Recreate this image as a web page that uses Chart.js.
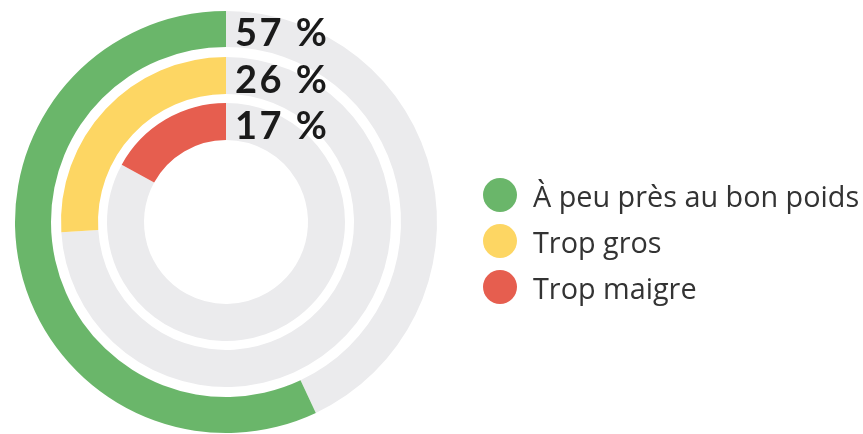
<!DOCTYPE html>
<html>
<head>
<meta charset="utf-8">
<script src="https://cdn.jsdelivr.net/npm/chart.js@4/dist/chart.umd.min.js"></script>
<style>
  html, body { margin: 0; padding: 0; background: #fff; }
  #wrap { position: relative; width: 863px; height: 434px; }
  #legend { position: absolute; left: 483px; top: 172px; font-family: 'Open Sans', sans-serif; font-size: 28.8px; color: #333; }
  .item { display: flex; align-items: center; height: 46px; white-space: nowrap; }
  .dot { width: 34px; height: 34px; border-radius: 50%; margin-right: 16px; flex: none; }
</style>
</head>
<body>
<div id="wrap">
  <canvas id="chart" width="863" height="434"></canvas>
  <div id="legend"></div>
</div>
<script>
// --- Data ---
const categories = ['À peu près au bon poids', 'Trop gros', 'Trop maigre'];
const percentages = [57, 26, 17];
const colors = ['#6ab66a', '#fdd663', '#e65e4f'];
const trackColor = '#ebebed';

// ring thickness and gaps (px)
const ringWeights = [36, 37, 37];
const gapWeights = [10, 9];

// --- Build datasets (outer ring first, with empty spacer rings between) ---
const datasets = [];
percentages.forEach((p, i) => {
    datasets.push({
        label: categories[i],
        data: [100 - p, p],
        backgroundColor: [trackColor, colors[i]],
        borderWidth: 0,
        weight: ringWeights[i]
    });
    if (i < gapWeights.length) {
        datasets.push({
            label: 'gap',
            data: [1],
            backgroundColor: ['rgba(0,0,0,0)'],
            borderWidth: 0,
            weight: gapWeights[i]
        });
    }
});

// --- Percent labels drawn at the top of each ring ---
const percentLabels = {
    id: 'percentLabels',
    afterDatasetsDraw(chart) {
        const ctx = chart.ctx;
        ctx.save();
        ctx.font = 'bold 38px Lato, sans-serif';
        ctx.letterSpacing = '2.5px';
        ctx.fillStyle = '#1a1a1a';
        ctx.textBaseline = 'middle';
        ctx.textAlign = 'left';
        let ring = 0;
        chart.data.datasets.forEach((ds, i) => {
            if (ds.label === 'gap') return;
            const arc = chart.getDatasetMeta(i).data[0];
            const mid = (arc.innerRadius + arc.outerRadius) / 2;
            ctx.fillText(percentages[ring] + ' %', arc.x + 9, arc.y - mid + 5);
            ring++;
        });
        ctx.restore();
    }
};

new Chart(document.getElementById('chart'), {
    type: 'doughnut',
    data: { labels: ['reste', 'part'], datasets: datasets },
    options: {
        responsive: false,
        animation: false,
        events: [],
        cutout: 82,
        layout: { padding: { left: 15, right: 426, top: 11, bottom: 1 } },
        plugins: {
            legend: { display: false },
            tooltip: { enabled: false }
        }
    },
    plugins: [percentLabels]
});

// --- Legend ---
const legend = document.getElementById('legend');
categories.forEach((c, i) => {
    const item = document.createElement('div');
    item.className = 'item';
    item.innerHTML = '<span class="dot" style="background:' + colors[i] + '"></span><span>' + c + '</span>';
    legend.appendChild(item);
});
</script>
</body>
</html>
